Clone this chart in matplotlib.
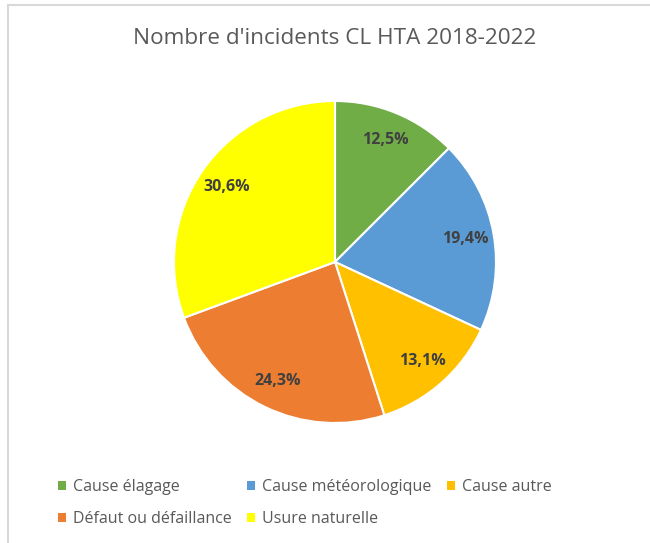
import matplotlib
matplotlib.use("Agg")
import matplotlib.pyplot as plt
from matplotlib.patches import Patch
from matplotlib.lines import Line2D
import numpy as np

categories = ["Cause élagage", "Cause météorologique", "Cause autre",
              "Défaut ou défaillance", "Usure naturelle"]
values = [12.5, 19.4, 13.1, 24.3, 30.6]
labels = ["12,5%", "19,4%", "13,1%", "24,3%", "30,6%"]
colors = ["#70AD47", "#5B9BD5", "#FFC000", "#ED7D31", "#FFFF00"]
title = "Nombre d'incidents CL HTA 2018-2022"

plt.rcParams['font.family'] = ['Open Sans', 'DejaVu Sans']

W, H = 650, 543
fig = plt.figure(figsize=(W / 100, H / 100), dpi=100)

# border lines (top and left)
fig.add_artist(Line2D([7.5 / W, 1], [1 - 4.5 / H, 1 - 4.5 / H], color="#D9D9D9", lw=1.5))
fig.add_artist(Line2D([7.5 / W, 7.5 / W], [0, 1 - 4.5 / H], color="#D9D9D9", lw=1.5))

cx, cy, r = 335, 262, 161
ax = fig.add_axes([(cx - r) / W, (H - cy - r) / H, 2 * r / W, 2 * r / H])
wedges, _ = ax.pie(values, colors=colors, startangle=90, counterclock=False,
                   wedgeprops=dict(edgecolor="white", linewidth=1.5), radius=1)
total = sum(values)
cum = 0
for v, lab in zip(values, labels):
    mid = 90 - (cum + v / 2) / total * 360
    cum += v
    ang = np.deg2rad(mid)
    ax.text(0.82 * np.cos(ang), 0.82 * np.sin(ang), lab, ha="center", va="center",
            fontsize=11.5, fontweight="bold", color="#404040")
ax.set_xlim(-1, 1)
ax.set_ylim(-1, 1)
ax.set_aspect("equal")
ax.axis("off")

fig.text(cx / W, 1 - 38 / H, title, ha="center", va="center", fontsize=16.2, color="#595959")

order = [0, 3, 1, 4, 2]
handles = [Patch(facecolor=colors[i], edgecolor="none") for i in order]
leg = fig.legend(handles, [categories[i] for i in order], ncol=3,
                 loc="center left", bbox_to_anchor=(50 / W, 1 - 503 / H),
                 frameon=False, fontsize=11.5, labelcolor="#595959",
                 handlelength=0.5, handleheight=0.5, handletextpad=0.45,
                 columnspacing=0.95, labelspacing=1.0, borderpad=0)

fig.savefig("out.png", dpi=100)
